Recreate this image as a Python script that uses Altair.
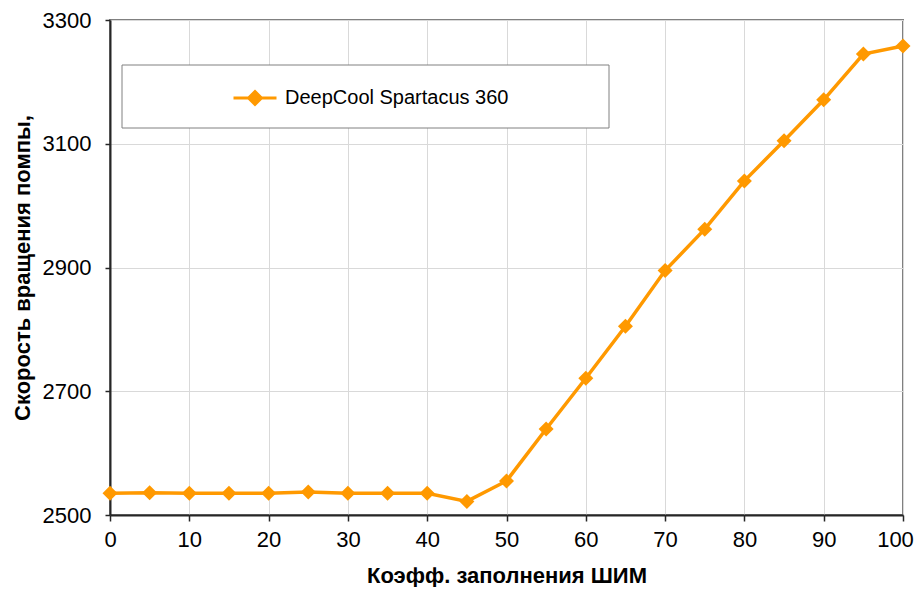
import altair as alt
import pandas as pd

pwm = [0, 5, 10, 15, 20, 25, 30, 35, 40, 45, 50, 55, 60, 65, 70, 75, 80, 85, 90, 95, 100]
rpm = [2535, 2536, 2535, 2535, 2535, 2537, 2535, 2535, 2535, 2522, 2555, 2639,
       2721, 2805, 2895, 2962, 3040, 3105, 3171, 3245, 3258]
series_name = "DeepCool Spartacus 360"
x_ticks = [0, 10, 20, 30, 40, 50, 60, 70, 80, 90, 100]
y_ticks = [2500, 2700, 2900, 3100, 3300]

df = pd.DataFrame({"pwm": pwm, "rpm": rpm, "series": [series_name] * len(pwm)})

ORANGE = "#FF9900"
FONT = "Liberation Sans"

x_enc = alt.X(
    "pwm:Q",
    scale=alt.Scale(domain=[0, 100], nice=False),
    axis=alt.Axis(
        values=x_ticks, title="Коэфф. заполнения ШИМ", format="d",
        labelFlush=False, labelPadding=8, titlePadding=15, tickSize=6,
        labelOffset={"condition": {"test": "datum.value == 100", "value": -8}, "value": 0},
    ),
)
y_enc = alt.Y(
    "rpm:Q",
    scale=alt.Scale(domain=[2500, 3300], nice=False, zero=False),
    axis=alt.Axis(values=y_ticks, title="Скорость вращения помпы,", format="d",
                  labelFlush=False, labelPadding=14, titlePadding=8, tickSize=5),
)
color_enc = alt.Color(
    "series:N",
    scale=alt.Scale(domain=[series_name], range=[ORANGE]),
    legend=alt.Legend(
        title=None,
        orient="none",
        legendX=122,
        legendY=55,
        padding=0,
        symbolType="M-1,0L1,0M0,-0.3L0.3,0L0,0.3L-0.3,0Z",
        symbolSize=1849,
        symbolStrokeWidth=3,
        symbolStrokeColor=ORANGE,
        symbolFillColor=ORANGE,
        labelFontSize=20,
        labelFont=FONT,
        labelColor="black",
        labelOffset=7,
        labelLimit=400,
    ),
)

frame = alt.Chart(pd.DataFrame({"k": [0]})).mark_rect(
    fill="white", stroke="#808080", strokeWidth=1
).encode(x=alt.value(12), x2=alt.value(499), y=alt.value(45), y2=alt.value(108))

line = alt.Chart(df).mark_line(strokeWidth=3.5).encode(x=x_enc, y=y_enc, color=color_enc)
points = alt.Chart(df).mark_point(shape="diamond", filled=True, size=225, opacity=1).encode(
    x=x_enc, y=y_enc, color=color_enc
)

chart = (
    alt.layer(frame, line, points)
    .properties(
        width=793,
        height=495,
        autosize=alt.AutoSizeParams(type="none"),
        padding={"left": 102, "top": 12, "right": 13, "bottom": 72},
    )
    .configure_view(stroke="#808080", strokeWidth=2)
    .configure_axis(
        labelFont=FONT,
        labelFontSize=22,
        labelColor="black",
        titleFont=FONT,
        titleFontSize=22,
        titleFontWeight="bold",
        titleColor="black",
        domainColor="#262626",
        domainWidth=2,
        tickColor="#262626",
        tickWidth=1.5,
        gridColor="#d9d9d9",
        gridWidth=1,
    )
)

chart.save("out.html", embed_options={"renderer": "svg", "actions": False})
